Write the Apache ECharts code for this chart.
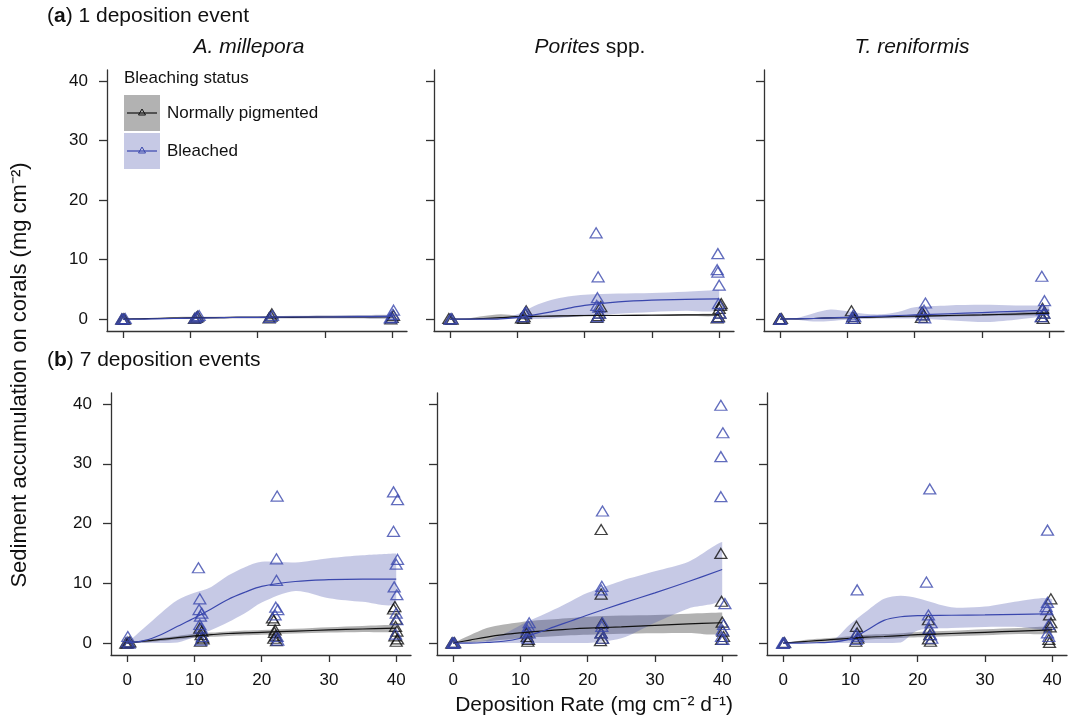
<!DOCTYPE html>
<html>
<head>
<meta charset="utf-8">
<script src="https://cdn.jsdelivr.net/npm/echarts@6/dist/echarts.min.js"></script>
<style>
html,body{margin:0;padding:0;background:#fff}
#main{width:1078px;height:717px}
</style>
</head>
<body>
<div id="main"></div>
<script>
// ---- data ----
var xTicks = [0, 10, 20, 30, 40];
var yTicks = [0, 10, 20, 30, 40];
// x positions of the fitted curves / bands
var fitX = [0, 2.5, 5, 7.5, 10, 12.5, 15, 17.5, 20, 25, 30, 35, 40];

// (a) 1 deposition event - A. millepora
var a1Normal = [[-0.2,0],[0.2,0],[0,0.05],[10.6,0.1],[10.9,0.3],[11.1,0.5],[21.7,0.2],[22,0.5],[22.1,0.9],[39.8,0.05],[40,0.3],[40.2,0.6]];
var a1Bleached = [[0,0],[0.3,0.1],[-0.2,0.05],[10.7,0.2],[11,0.4],[11.3,0.6],[21.8,0.3],[22.2,0.6],[39.9,0.3],[40.1,0.8],[40.2,1.5],[39.7,0.2]];
var a1NormalFit = [0,0.05,0.1,0.15,0.2,0.25,0.25,0.3,0.3,0.3,0.35,0.35,0.4];
var a1NormalLo  = [0,0,0,0.05,0.1,0.1,0.15,0.15,0.15,0.15,0.15,0.15,0.15];
var a1NormalHi  = [0,0.1,0.25,0.35,0.4,0.4,0.4,0.45,0.45,0.5,0.55,0.6,0.65];
var a1BleachedFit = [0,0,0.05,0.1,0.15,0.2,0.25,0.3,0.3,0.35,0.35,0.4,0.45];
var a1BleachedLo  = [0,0,0,0,0.05,0.1,0.15,0.15,0.15,0.15,0.15,0.15,0.15];
var a1BleachedHi  = [0,0.05,0.15,0.25,0.3,0.35,0.4,0.45,0.45,0.55,0.6,0.7,0.75];

// (a) Porites spp.
var a2Normal = [[0,0],[-0.2,0.1],[0.3,0],[10.6,0.2],[11,0.4],[11.2,0.9],[11.3,1.4],[10.9,0.1],[21.8,0.3],[22,0.6],[22.2,1.0],[22.4,2.1],[39.7,0.2],[39.9,0.4],[40.1,1.0],[40,1.8],[40.3,2.6],[40.2,2.3]];
var a2Bleached = [[0,0],[0.2,0.1],[10.8,0.4],[11.1,1.0],[11.3,1.2],[21.7,14.5],[22,7.1],[21.9,3.6],[21.8,2.3],[22.1,2.0],[21.9,0.4],[22.2,1.0],[39.8,11.0],[39.7,8.3],[39.8,7.9],[40,5.7],[39.9,2.6],[40.1,1.0],[39.8,0.3]];
var a2NormalFit = [0,0,0.1,0.25,0.4,0.45,0.5,0.55,0.6,0.6,0.65,0.7,0.7];
var a2NormalLo  = [0,0,-0.1,0,0.2,0.3,0.35,0.4,0.45,0.5,0.5,0.5,0.5];
var a2NormalHi  = [0,0.1,0.5,0.8,0.6,0.6,0.65,0.7,0.75,0.75,0.8,0.85,0.9];
var a2BleachedFit = [0,0,0,0.05,0.3,0.7,1.2,1.8,2.3,2.9,3.2,3.3,3.4];
var a2BleachedLo  = [0,0,0,0,0,0,0.1,0.3,0.5,0.9,1.2,1.4,1.6];
var a2BleachedHi  = [0,0,0,0.1,0.8,2.2,3.2,3.8,4.1,4.3,4.4,4.6,4.9];

// (a) T. reniformis
var a3Normal = [[0,0],[0.2,0.1],[-0.1,0],[10.6,1.4],[10.8,0.4],[11,0.1],[21.1,1.2],[21.3,0.7],[21,0.3],[39,1.8],[39.2,1.0],[38.9,0.4],[39.1,0.1]];
var a3Bleached = [[0,0],[0.1,0.05],[10.9,0.7],[11.1,0.4],[10.7,0.1],[21.6,2.7],[21.4,1.5],[21.2,0.7],[21.5,0.2],[38.9,7.2],[39.3,3.1],[39,1.6],[39.2,1.0],[38.8,0.4]];
var a3NormalFit = [0,0.05,0.1,0.2,0.25,0.3,0.35,0.45,0.5,0.6,0.7,0.85,1.0];
var a3NormalLo  = [0,0,0,0.05,0.1,0.15,0.2,0.25,0.3,0.4,0.5,0.6,0.7];
var a3NormalHi  = [0,0.1,0.2,0.35,0.4,0.45,0.5,0.6,0.7,0.8,0.9,1.1,1.3];
var a3BleachedFit = [0,0.05,0.1,0.2,0.3,0.4,0.5,0.6,0.7,0.9,1.1,1.3,1.5];
var a3BleachedLo  = [0,-0.1,-0.4,-0.3,-0.1,0.05,0.1,0.1,0.1,-0.2,-0.5,-0.1,0.8];
var a3BleachedHi  = [0,0.2,1.0,1.6,1.3,0.9,0.8,1.2,2.0,2.3,2.4,2.3,2.1];

// (b) 7 deposition events - A. millepora
var b1Normal = [[0,0],[0.2,0.1],[-0.2,0],[0.4,0.2],[10.8,2.5],[11.1,2.0],[11,1.4],[11.3,0.7],[10.9,0.3],[11.2,1.0],[21.6,4.2],[21.8,3.8],[22,2.2],[21.9,1.8],[22.1,1.2],[21.8,0.8],[22.2,0.4],[39.8,6.1],[39.6,5.7],[40,4.0],[39.9,2.8],[40.1,2.0],[39.8,1.2],[40.2,0.7],[40,0.3]];
var b1Bleached = [[0.1,1.1],[0,0.2],[0.3,0],[10.6,12.6],[10.8,7.4],[10.7,5.6],[11.1,5.0],[10.9,4.5],[10.8,3.1],[11,2.5],[11.2,1.1],[11,0.5],[22.3,24.6],[22.2,14.1],[22.2,10.5],[22.1,6.0],[22.4,5.6],[22,4.7],[22.3,1.1],[22.4,0.5],[39.6,25.3],[40.2,24.0],[39.6,18.7],[40.2,14.0],[40,13.2],[39.7,9.4],[40.1,8.1],[40,5.0],[40.1,3.9],[39.9,1.5]];
var b1NormalFit = [0,0.3,0.6,0.9,1.2,1.4,1.6,1.7,1.8,2.0,2.2,2.35,2.5];
var b1NormalLo  = [0,0.1,0.35,0.6,0.85,1.05,1.2,1.3,1.4,1.6,1.75,1.85,1.95];
var b1NormalHi  = [0,0.5,0.85,1.2,1.55,1.75,1.95,2.1,2.2,2.4,2.65,2.85,3.05];
var b1BleachedFit = [0,0.4,1.4,2.8,4.2,5.7,7.3,8.5,9.5,10.3,10.6,10.7,10.7];
var b1BleachedLo  = [0,0,0,0.1,1.0,2.2,3.5,5.0,6.8,8.7,7.5,6.9,6.7];
var b1BleachedHi  = [0,2.5,5.0,7.2,8.4,9.4,11.3,12.7,13.6,13.5,14.2,14.7,15.0];

// (b) Porites spp.
var b2Normal = [[0,0],[0.2,0.1],[-0.2,0],[11,1.1],[11.2,0.6],[10.9,1.7],[11.1,0.3],[22,19.0],[22,8.2],[22.1,3.3],[22,1.7],[22.2,0.8],[21.9,0.4],[39.8,15.0],[39.9,7.0],[40,3.5],[40.1,2.0],[40.2,1.1],[39.9,0.6]];
var b2Bleached = [[0,0],[-0.1,0.1],[0.2,0],[11.3,3.4],[11.2,2.8],[11,2.2],[11.3,1.7],[11.1,0.8],[22.2,22.1],[22.1,9.5],[22,8.9],[22.2,3.4],[22.1,2.8],[22,1.7],[22.2,0.8],[39.8,39.8],[40.1,35.2],[39.8,31.2],[39.8,24.5],[40.4,6.6],[40.2,3.1],[40,2.2],[39.9,1.1],[40.1,0.6]];
var b2NormalFit = [0,0.5,1.0,1.4,1.7,1.95,2.15,2.35,2.5,2.7,2.95,3.2,3.4];
var b2NormalLo  = [0,0.15,0.3,0.55,0.8,1.0,1.15,1.3,1.4,1.55,1.65,1.7,1.7];
var b2NormalHi  = [0,1.3,2.5,3.1,3.5,3.8,4.0,4.2,4.4,4.6,4.7,4.9,5.1];
var b2BleachedFit = [0,0,0.1,0.3,0.8,1.7,2.7,3.7,4.7,6.6,8.4,10.3,12.3];
var b2BleachedLo  = [0,0,0,0,0,0,0,0,0,0.8,3.4,5.8,7.5];
var b2BleachedHi  = [0,0.2,0.5,1.5,3.0,4.3,5.6,7.0,8.4,10.4,12.0,13.6,16.9];

// (b) T. reniformis
var b3Normal = [[0,0],[0.2,0.1],[10.9,2.8],[11,1.7],[11.1,0.8],[10.8,0.3],[21.6,3.9],[21.7,2.3],[21.8,1.4],[21.6,0.7],[21.9,0.3],[39.8,7.4],[39.6,4.7],[39.8,3.4],[39.7,2.7],[39.5,0.6],[39.6,0.1]];
var b3Bleached = [[0,0],[0.2,0.05],[-0.1,0],[11,8.9],[10.8,1.4],[11.1,1.1],[10.9,0.6],[21.8,25.8],[21.3,10.2],[21.6,4.7],[22,3.4],[21.7,2.5],[21.9,1.4],[22.1,0.8],[39.3,18.9],[39.3,6.8],[39.1,6.1],[39.2,5.6],[39.5,3.1],[39.3,1.7],[39.5,1.1]];
var b3NormalFit = [0,0.2,0.4,0.6,0.8,1.0,1.1,1.25,1.4,1.6,1.8,2.0,2.2];
var b3NormalLo  = [0,0,0.1,0.3,0.45,0.6,0.7,0.85,0.95,1.15,1.3,1.5,1.65];
var b3NormalHi  = [0,0.4,0.7,0.9,1.15,1.4,1.5,1.65,1.85,2.05,2.3,2.5,2.75];
var b3BleachedFit = [0,0,0.05,0.2,0.7,2.2,3.8,4.4,4.6,4.65,4.7,4.8,4.9];
var b3BleachedLo  = [0,0,0,0,0,0,0,0.1,2.1,2.5,2.7,2.7,2.6];
var b3BleachedHi  = [0,0,0.1,0.6,3.2,5.4,7.4,7.9,7.5,6.0,6.1,7.0,7.3];

// ---- styling ----
var FONT = 'Liberation Sans, Arial, Helvetica, sans-serif';
var BLUE = '#3a47ad';
var BLACK = '#111111';
var BLUE_BAND = 'rgba(66,76,170,0.3)';
var GREY_BAND = 'rgba(0,0,0,0.3)';
var AXIS = '#333333';

var gridLeft = [[107, 434, 764], [111, 437, 767]];
var gridTop = [70, 393];
var gridH = [261, 262];

var panels = [
  [a1Normal, a1Bleached, a1NormalFit, a1NormalLo, a1NormalHi, a1BleachedFit, a1BleachedLo, a1BleachedHi],
  [a2Normal, a2Bleached, a2NormalFit, a2NormalLo, a2NormalHi, a2BleachedFit, a2BleachedLo, a2BleachedHi],
  [a3Normal, a3Bleached, a3NormalFit, a3NormalLo, a3NormalHi, a3BleachedFit, a3BleachedLo, a3BleachedHi],
  [b1Normal, b1Bleached, b1NormalFit, b1NormalLo, b1NormalHi, b1BleachedFit, b1BleachedLo, b1BleachedHi],
  [b2Normal, b2Bleached, b2NormalFit, b2NormalLo, b2NormalHi, b2BleachedFit, b2BleachedLo, b2BleachedHi],
  [b3Normal, b3Bleached, b3NormalFit, b3NormalLo, b3NormalHi, b3BleachedFit, b3BleachedLo, b3BleachedHi]
];

function pairs(xs, ys){
  var out = [];
  for (var i = 0; i < xs.length; i++) out.push([xs[i], ys[i]]);
  return out;
}

// confidence band: one polygon (upper edge, then lower edge backwards) placed with the axes
function band(g, lo, hi, color){
  return {type:'custom', xAxisIndex:g, yAxisIndex:g, silent:true, clip:true,
    encode:{x:0, y:1}, data:pairs(fitX, hi),
    renderItem:function(params, api){
      if (params.dataIndex !== 0) return null;
      var pts = [], i;
      for (i = 0; i < fitX.length; i++) pts.push(api.coord([fitX[i], hi[i]]));
      for (i = fitX.length - 1; i >= 0; i--) pts.push(api.coord([fitX[i], lo[i]]));
      var mn = [Infinity, Infinity], mx = [-Infinity, -Infinity];
      pts.forEach(function(p){
        mn[0] = Math.min(mn[0], p[0]); mn[1] = Math.min(mn[1], p[1]);
        mx[0] = Math.max(mx[0], p[0]); mx[1] = Math.max(mx[1], p[1]);
      });
      return {type:'polygon', shape:{points:pts, smooth:0.3, smoothConstraint:[mn, mx]},
        style:{fill:color}};
    }
  };
}
function fitLine(g, ys, color){
  return {type:'line', xAxisIndex:g, yAxisIndex:g, data:pairs(fitX, ys), smooth:0.35,
    symbol:'none', silent:true, lineStyle:{color:color, width:1.2}};
}
function points(g, pts, color){
  return {type:'scatter', xAxisIndex:g, yAxisIndex:g, data:pts, symbol:'triangle', symbolSize:[12, 10],
    silent:true, itemStyle:{color:'rgba(0,0,0,0)', borderColor:color, borderWidth:1.3}};
}

var grids = [], xAxes = [], yAxes = [], series = [];
for (var g = 0; g < 6; g++){
  var row = g < 3 ? 0 : 1, col = g % 3;
  grids.push({left:gridLeft[row][col], top:gridTop[row], width:300, height:gridH[row]});
  xAxes.push({gridIndex:g, type:'value', min:-2.4, max:42.2,
    axisLine:{onZero:false, lineStyle:{color:AXIS, width:1.3}},
    axisTick:{customValues:xTicks, length:7, lineStyle:{color:AXIS, width:1.3}},
    axisLabel:{show:row == 1, customValues:xTicks, color:BLACK, fontSize:17, fontFamily:FONT, margin:17},
    splitLine:{show:false}});
  yAxes.push({gridIndex:g, type:'value', min:-2, max:41.85,
    axisLine:{onZero:false, lineStyle:{color:AXIS, width:1.3}},
    axisTick:{customValues:yTicks, length:8, lineStyle:{color:AXIS, width:1.3}},
    axisLabel:{show:col == 0, customValues:yTicks, color:BLACK, fontSize:17, fontFamily:FONT, margin:19},
    splitLine:{show:false}});
  var p = panels[g];
  series.push(band(g, p[3], p[4], GREY_BAND));
  series.push(band(g, p[6], p[7], BLUE_BAND));
  series.push(fitLine(g, p[2], BLACK));
  series.push(fitLine(g, p[5], BLUE));
  series.push(points(g, p[0], BLACK));
  series.push(points(g, p[1], BLUE));
}

function txt(x, y, text, size, extra){
  var st = {text:text, x:x, y:y, fontSize:size, fontFamily:FONT, fill:BLACK, textVerticalAlign:'middle'};
  for (var k in extra) st[k] = extra[k];
  return {type:'text', style:st, z:100};
}

var graphics = [
  txt(47, 16, '({b|a}) 1 deposition event', 21, {rich:{b:{fontWeight:'bold', fontSize:21, fontFamily:FONT}}}),
  txt(47, 360, '({b|b}) 7 deposition events', 21, {rich:{b:{fontWeight:'bold', fontSize:21, fontFamily:FONT}}}),
  txt(249, 47, 'A. millepora', 21, {fontStyle:'italic', textAlign:'center'}),
  txt(590, 47, '{i|Porites} spp.', 21, {textAlign:'center', rich:{i:{fontStyle:'italic', fontSize:21, fontFamily:FONT}}}),
  txt(912, 47, 'T. reniformis', 21, {fontStyle:'italic', textAlign:'center'}),
  txt(594, 705, 'Deposition Rate (mg cm\u207B\u00B2 d\u207B\u00B9)', 21, {textAlign:'center'}),
  {type:'text', x:20, y:375, rotation:Math.PI/2, z:100,
   style:{text:'Sediment accumulation on corals (mg cm\u207B\u00B2)', fontSize:22, fontFamily:FONT, fill:BLACK,
          textAlign:'center', textVerticalAlign:'middle'}},
  // legend
  txt(124, 78, 'Bleaching status', 17, {}),
  {type:'rect', shape:{x:124, y:95, width:36, height:36}, style:{fill:GREY_BAND}, z:100},
  {type:'rect', shape:{x:124, y:133, width:36, height:36}, style:{fill:BLUE_BAND}, z:100},
  {type:'line', shape:{x1:127, y1:113, x2:157, y2:113}, style:{stroke:BLACK, lineWidth:1.2}, z:101},
  {type:'line', shape:{x1:127, y1:151, x2:157, y2:151}, style:{stroke:BLUE, lineWidth:1.2}, z:101},
  {type:'polygon', shape:{points:[[142,109],[138.5,115],[145.5,115]]}, style:{fill:'none', stroke:BLACK, lineWidth:1}, z:102},
  {type:'polygon', shape:{points:[[142,147],[138.5,153],[145.5,153]]}, style:{fill:'none', stroke:BLUE, lineWidth:1}, z:102},
  txt(167, 113, 'Normally pigmented', 17, {}),
  txt(167, 151, 'Bleached', 17, {})
];

var myChart = echarts.init(document.getElementById('main'));
myChart.setOption({
  animation:false,
  backgroundColor:'#ffffff',
  grid:grids,
  xAxis:xAxes,
  yAxis:yAxes,
  series:series,
  graphic:graphics
});
</script>
</body>
</html>
